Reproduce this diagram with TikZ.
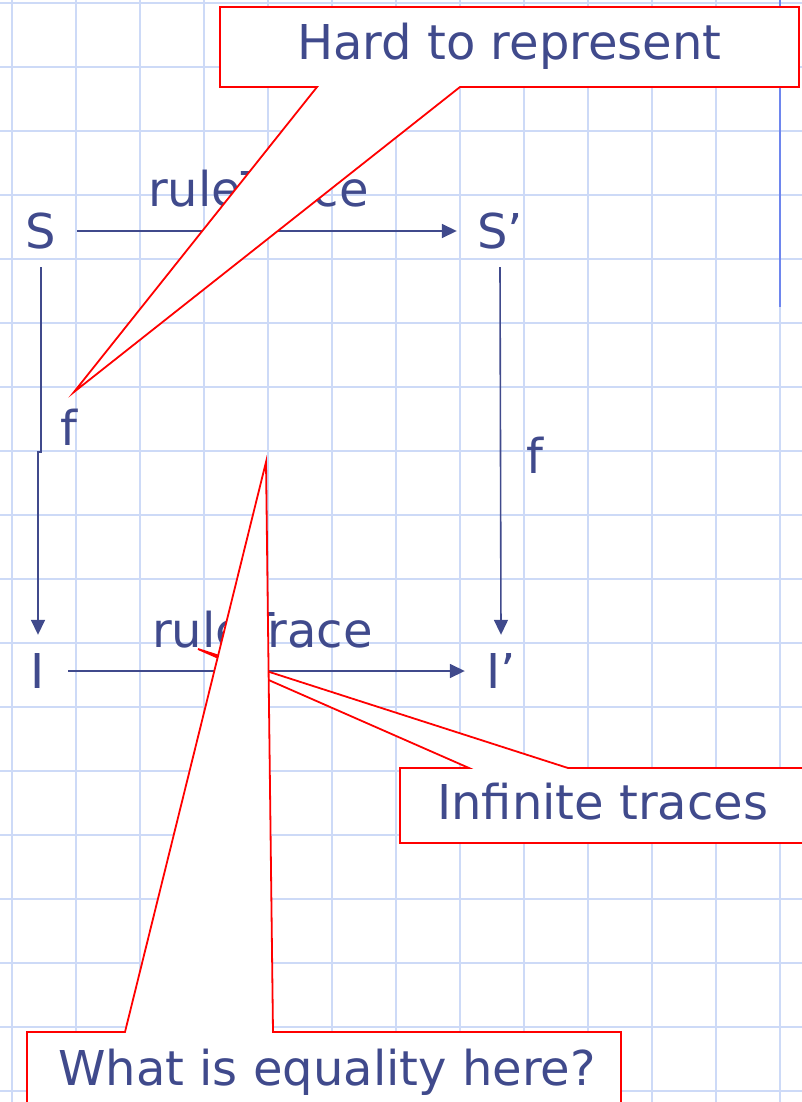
\documentclass[tikz,border=0pt]{standalone}
\usepackage{fontspec}
\setmainfont{DejaVu Sans}
\usetikzlibrary{arrows.meta, positioning}
\definecolor{inkblue}{HTML}{404A8C}
\definecolor{gridblue}{HTML}{CDDAF7}
\definecolor{barblue}{HTML}{6E86EE}
\definecolor{noteRed}{HTML}{FF0000}

\begin{document}
\begin{tikzpicture}[
    x=1pt, y=-1pt,
    obj/.style={inner sep=0pt, minimum size=72pt, text=inkblue, font=\fontsize{48}{58}\selectfont},
    lbl/.style={inner sep=0pt, anchor=base west, text=inkblue, font=\fontsize{48}{58}\selectfont},
    map/.style={-{Triangle[length=15pt, width=14pt]}, inkblue, line width=1.6pt},
    callout/.style={draw=noteRed, fill=white, line width=1.8pt, line join=miter},
]
    \useasboundingbox (0,0) rectangle (802,1102);

    % Background grid
    \foreach \gx in {12,76,...,780}
        \draw[gridblue, line width=2.4pt] (\gx,0) -- (\gx,1102);
    \foreach \gy in {3,67,...,1091}
        \draw[gridblue, line width=2.4pt] (0,\gy) -- (802,\gy);
    \draw[barblue, line width=2.4pt] (780,0) -- (780,307);

    % Objects of the square
    \node[obj] (S) at (41,231) {S};
    \node[obj] (Sp) at (500,231) {S’};
    \node[obj] (I) at (38,671) {I};
    \node[obj] (Ip) at (501,671) {I’};
    \coordinate (jog) at (0,452);

    % Maps
    \draw[map, shorten >=7pt] (S) -- (Sp);
    \draw[map, shorten <=-6pt] (I) -- (Ip);
    \draw[map] (S.south) -- (S |- jog) -- (I |- jog) -- (I.north);
    \draw[map] (Sp.south) -- (Ip.north);

    \node[lbl] (trTop) at (148,207) {ruleTrace};
    \node[lbl] (trBot) at (152,647) {ruleTrace};
    \node[lbl] (fLeft) at (60,445) {f};
    \node[lbl] (fRight) at (526,473) {f};

    % Callouts
    \draw[callout] (220,7) -- (799,7) -- (799,87) -- (460,87) -- (74,392)
        -- (317,87) -- (220,87) -- cycle;
    \node[lbl] (hard) at (297,60) {Hard to represent};

    \draw[callout] (400,768) -- (469,768) -- (198,649) -- (568,768)
        -- (812,768) -- (812,843) -- (400,843) -- cycle;
    \node[lbl] (inf) at (437,819) {Infinite traces};

    \draw[callout] (27,1110) -- (27,1032) -- (125,1032) -- (266,462)
        -- (273,1032) -- (621,1032) -- (621,1110);
    \node[lbl] (eq) at (58,1085) {What is equality here?};
\end{tikzpicture}
\end{document}
